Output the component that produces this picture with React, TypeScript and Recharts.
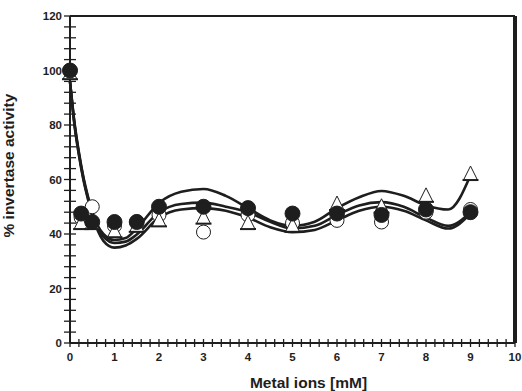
import React from 'react';
import { ComposedChart, Line, Scatter, XAxis, YAxis, ReferenceLine } from 'recharts';

// measured concentrations (mM)
const metalX = [0, 0.25, 0.5, 1, 1.5, 2, 3, 4, 5, 6, 7, 8, 9];
const openCircle = [100, 46, 50, 43, 44.5, 47, 40.7, 47, 44, 45, 44.4, 48, 49];
const openTriangle = [99, 44, 44, 41, 43, 45, 46, 44, 43, 51, 50, 54, 62];
const filledCircle = [100, 47.5, 44.4, 44.4, 44.4, 50, 50, 49.5, 47.5, 47.5, 47, 49, 48];

// fitted curves
const curveX = [0, 0.1, 0.2, 0.3, 0.4, 0.5, 0.75, 1, 1.25, 1.5, 2, 2.5, 3, 3.5, 4, 4.5, 5, 5.5, 6, 6.5, 7, 7.5, 8, 8.5, 9];
const fitTriangle = [96, 81, 70, 61, 54, 48, 40, 37.8, 38.5, 42, 51.4, 55.5, 56.5, 54, 49.5, 45, 43, 44.5, 49.5, 53.5, 55.8, 54, 50.5, 49, 61.6];
const fitFilled = [96, 80.5, 69.5, 60.5, 53.5, 47.5, 39, 36.7, 37.2, 39.8, 48, 51, 51.5, 50, 48, 44.5, 42, 43, 47, 50.5, 51.7, 50, 46, 43, 48];
const fitOpen = [96, 80, 69, 60, 53, 47, 37.5, 35, 35.8, 38.2, 46, 49, 49.5, 48.5, 46, 42.5, 40.7, 41.5, 45, 48.5, 50, 48.5, 45, 42, 47.5];

const xMajor = [0, 1, 2, 3, 4, 5, 6, 7, 8, 9, 10];
const yMajor = [0, 20, 40, 60, 80, 100, 120];
const xTicks = Array.from({ length: 51 }, (_, i) => i / 5);
const yTicks = Array.from({ length: 31 }, (_, i) => i * 4);

const toPoints = (xs: number[], ys: number[]) => xs.map((x, i) => ({ x, y: ys[i] }));

const ink = '#1e1e1e';
const font = '"Liberation Sans", Arial, sans-serif';

const XTick = (props: any) => {
  const { x, y, payload } = props;
  const v = payload.value;
  const major = xMajor.some((m) => Math.abs(m - v) < 1e-6);
  return (
    <g>
      <line x1={x} x2={x} y1={y - 4} y2={y + 4} stroke={ink} strokeWidth={1.3} />
      {major && (
        <text x={x} y={y + 18} textAnchor="middle" fontSize={11.5} fontWeight="bold" fontFamily={font} fill={ink}>
          {Math.round(v)}
        </text>
      )}
    </g>
  );
};

const YTick = (props: any) => {
  const { x, y, payload } = props;
  const v = payload.value;
  const major = yMajor.includes(v);
  return (
    <g>
      <line x1={x - 6} x2={x + 6} y1={y} y2={y} stroke={ink} strokeWidth={1.3} />
      {major && (
        <text x={x - 8} y={y + 4} textAnchor="end" fontSize={11.5} fontWeight="bold" fontFamily={font} fill={ink}>
          {v}
        </text>
      )}
    </g>
  );
};

const OpenCircle = (p: any) => (
  <circle cx={p.cx} cy={p.cy} r={7} fill="#fff" stroke={ink} strokeWidth={1} />
);

const FilledCircle = (p: any) => (
  <circle cx={p.cx} cy={p.cy} r={7.5} fill={ink} stroke={ink} strokeWidth={1} />
);

const Triangle = (p: any) => {
  const { cx, cy } = p;
  return (
    <g>
      <path d={`M${cx},${cy - 8} L${cx + 7},${cy + 6} L${cx - 7},${cy + 6} Z`} fill="#fff" stroke={ink} strokeWidth={1} />
      <line x1={cx - 8} x2={cx + 8} y1={cy + 6} y2={cy + 6} stroke={ink} strokeWidth={2} />
    </g>
  );
};

const App: React.FC = () => {
  return (
    <div style={{ position: 'absolute', left: 0, top: 0, background: '#fff' }}>
      <ComposedChart width={522} height={391} margin={{ top: 16, right: 7, bottom: 0, left: 0 }}>
        <XAxis
          dataKey="x"
          type="number"
          domain={[0, 10]}
          ticks={xTicks}
          interval={0}
          tick={<XTick />}
          tickLine={false}
          tickSize={0}
          tickMargin={0}
          height={48}
          axisLine={{ stroke: ink, strokeWidth: 2 }}
          allowDuplicatedCategory={false}
          label={{
            value: 'Metal ions [mM]',
            position: 'insideBottom',
            offset: 3,
            dx: 16,
            fontSize: 15.5,
            fontWeight: 'bold',
            fontFamily: font,
            fill: ink,
          }}
        />
        <YAxis
          dataKey="y"
          type="number"
          domain={[0, 120]}
          ticks={yTicks}
          interval={0}
          tick={<YTick />}
          tickLine={false}
          tickSize={0}
          tickMargin={0}
          width={70}
          axisLine={{ stroke: ink, strokeWidth: 2 }}
          label={{
            value: '% invertase activity',
            angle: -90,
            position: 'insideLeft',
            offset: 8,
            dy: 58,
            fontSize: 15.5,
            fontWeight: 'bold',
            fontFamily: font,
            fill: ink,
          }}
        />
        <ReferenceLine y={120} stroke={ink} strokeWidth={2} ifOverflow="visible" />
        <ReferenceLine x={10} stroke={ink} strokeWidth={4} ifOverflow="visible" />
        <Line data={toPoints(curveX, fitTriangle)} dataKey="y" type="monotone" stroke={ink} strokeWidth={2.6} dot={false} isAnimationActive={false} />
        <Line data={toPoints(curveX, fitFilled)} dataKey="y" type="monotone" stroke={ink} strokeWidth={2.6} dot={false} isAnimationActive={false} />
        <Line data={toPoints(curveX, fitOpen)} dataKey="y" type="monotone" stroke={ink} strokeWidth={2.6} dot={false} isAnimationActive={false} />
        <Scatter data={toPoints(metalX, openCircle)} dataKey="y" shape={<OpenCircle />} isAnimationActive={false} />
        <Scatter data={toPoints(metalX, openTriangle)} dataKey="y" shape={<Triangle />} isAnimationActive={false} />
        <Scatter data={toPoints(metalX, filledCircle)} dataKey="y" shape={<FilledCircle />} isAnimationActive={false} />
      </ComposedChart>
    </div>
  );
};

export default App;
